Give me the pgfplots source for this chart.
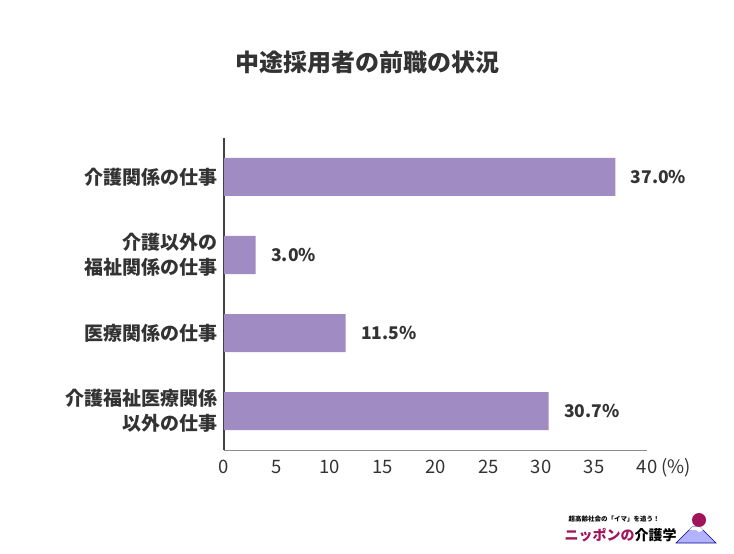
\documentclass[border=0pt]{standalone}
\usepackage{fontspec}
\setmainfont{Noto Sans CJK JP}
\usepackage{pgfplots}
\pgfplotsset{compat=1.18}
\definecolor{barc}{HTML}{A08BC3}
\definecolor{txt}{HTML}{333333}
\definecolor{logoc}{HTML}{A0155A}

\begin{document}
\begin{tikzpicture}[x=1pt,y=1pt]
\useasboundingbox[fill=white] (0,0) rectangle (734,554);
\node[font=\bfseries\fontsize{24}{28}\selectfont, text=txt] at (367,492) {中途採用者の前職の状況};
\begin{axis}[
    name=ax,
    at={(224pt,104pt)}, anchor=south west,
    scale only axis,
    width=423pt, height=312pt,
    xbar, bar width=38pt,
    xmin=0, xmax=40,
    ymin=-0.5, ymax=3.5,
    y dir=reverse,
    axis x line*=bottom,
    axis y line*=left,
    x axis line style={black!45, line width=0.8pt},
    y axis line style={black!75, line width=1.2pt},
    major tick length=0pt,
    xtick={0,5,...,40},
    ytick={0,1,2,3},
    yticklabels={{介護関係の仕事},{介護以外の\\福祉関係の仕事},{医療関係の仕事},{介護福祉医療関係\\以外の仕事}},
    yticklabel style={align=right, text=txt, font=\bfseries\fontsize{19}{25}\selectfont, xshift=-3pt},
    xticklabel style={text=txt, font=\fontsize{18.5}{20}\selectfont, yshift=-7pt},
    /pgf/number format/assume math mode=true,
    point meta=x,
    nodes near coords={\pgfmathprintnumber[fixed,fixed zerofill,precision=1]{\pgfplotspointmeta}\%},
    nodes near coords style={anchor=west, xshift=12pt, text=txt, font=\bfseries\fontsize{17.5}{20}\selectfont, /pgf/number format/assume math mode=true},
    clip=false,
]
\addplot[fill=barc, draw=none] coordinates {(37.0,0) (3.0,1) (11.5,2) (30.7,3)};
\end{axis}
\node[anchor=west, text=txt, font=\fontsize{18.5}{20}\selectfont] at ([xshift=11pt,yshift=-18pt]ax.south east) {(\%)};
% logo
\node[anchor=west, font=\bfseries\fontsize{6.5}{8}\selectfont] at (565,35) {超高齢社会の「イマ」を追う！};
\node[anchor=west, font=\bfseries\fontsize{14}{16}\selectfont] at (561,19) {\textcolor{logoc}{ニッポンの}介護学};
\fill[logoc] (699,34) circle (7);
\filldraw[fill=blue!30!white, draw=blue!60!black, line width=0.6pt] (676,11) -- (692,27) -- (700,27) -- (716,11) -- cycle;
\fill[white] (692,27) -- (700,27) -- (703,24) -- (699,22) -- (696,24) -- (689,24) -- cycle;
\end{tikzpicture}
\end{document}
